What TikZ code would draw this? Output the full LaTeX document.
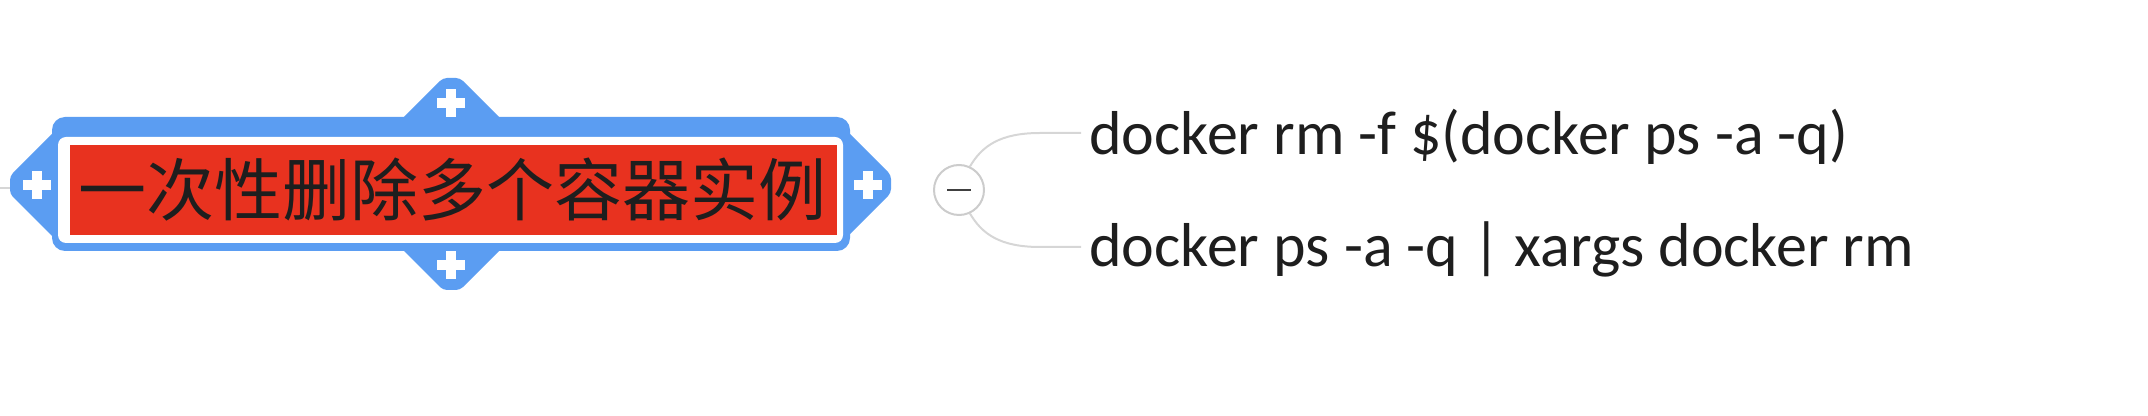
\documentclass[tikz,border=0pt]{standalone}
\usepackage{fontspec}
\setmainfont{Carlito}
\newfontfamily\cjk{Noto Sans CJK SC}
\definecolor{mmblue}{HTML}{5B9DF2}
\definecolor{mmred}{HTML}{E8321F}
\definecolor{linegray}{HTML}{D6D6D6}
\definecolor{circgray}{HTML}{CCCCCC}
\definecolor{txt}{HTML}{1E1E1E}
\tikzset{
  conn/.style={draw=linegray, line width=1pt},
  branch/.style={font=\fontsize{31}{36}\selectfont, text=txt, inner sep=0pt},
  plussign/.pic={\fill[white] (-14,-5) rectangle (14,5);
                 \fill[white] (-5,-14) rectangle (5,14);},
  tab/.style={fill=mmblue, rounded corners=2pt},
}
\begin{document}
\begin{tikzpicture}[x=0.5pt,y=-0.5pt]
\useasboundingbox (0,0) rectangle (2148,416);
% incoming connector stub
\coordinate (lp) at (0,188);
\coordinate (lq) at (40,188);
\draw[conn] (lp) -- (lq);
% blue frame
\fill[tab] (62,124) -- (10,176) -- (10,194) -- (62,246) -- cycle;
\fill[tab] (840,124) -- (891,175) -- (891,193) -- (840,244) -- cycle;
\fill[tab] (395,126) -- (443,78) -- (460,78) -- (508,126) -- cycle;
\fill[tab] (395,242) -- (443,290) -- (460,290) -- (508,242) -- cycle;
\fill[mmblue, rounded corners=6.5pt] (52,117) rectangle (850,251);
% white rim and red body
\fill[white, rounded corners=4pt] (58,137) rectangle (843,243);
\fill[mmred] (70,145) rectangle (837,235);
% plus signs
\pic at (37,185) {plussign};
\pic at (868,185) {plussign};
\pic at (451,103) {plussign};
\pic at (451,265) {plussign};
% title
\node[font=\cjk\fontsize{34}{40}\selectfont, text=txt, inner sep=0pt] (title) at (452,190) {一次性删除多个容器实例};
% collapse button
\node[circle, draw=circgray, fill=white, line width=1pt, minimum size=25pt, inner sep=0pt] (col) at (959,190) {};
\draw[draw=black!75, line width=1.3pt] ([xshift=-6pt]col.center) -- ([xshift=6pt]col.center);
% branches
\node[branch, anchor=base west] (b1) at (1089,155) {docker rm -f \$(docker ps -a -q)};
\node[branch, anchor=base west] (b2) at (1089,267) {docker ps -a -q | xargs docker rm};
\coordinate (e1) at (1081,133);
\coordinate (e2) at (1081,247);
\draw[conn] (col.65) .. controls (982,146) and (1000,133) .. (1040,133) -- (e1);
\draw[conn] (col.-65) .. controls (982,234) and (1000,247) .. (1040,247) -- (e2);
\end{tikzpicture}
\end{document}
